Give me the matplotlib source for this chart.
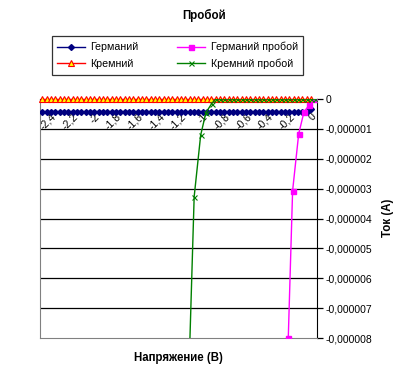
import matplotlib
matplotlib.use("Agg")
import matplotlib.pyplot as plt
from matplotlib.ticker import FuncFormatter, MultipleLocator

plt.rcParams['font.family'] = ['Liberation Sans', 'DejaVu Sans']

# --- data ---
volts = [-2.48, -2.44, -2.40, -2.36, -2.32, -2.28, -2.24, -2.20, -2.16, -2.12,
         -2.08, -2.04, -2.00, -1.96, -1.92, -1.88, -1.84, -1.80, -1.76, -1.72,
         -1.68, -1.64, -1.60, -1.56, -1.52, -1.48, -1.44, -1.40, -1.36, -1.32,
         -1.28, -1.24, -1.20, -1.16, -1.12, -1.08, -1.04, -1.00, -0.96, -0.92,
         -0.88, -0.84, -0.80, -0.76, -0.72, -0.68, -0.64, -0.60, -0.56, -0.52,
         -0.48, -0.44, -0.40, -0.36, -0.32, -0.28, -0.24, -0.20, -0.16, -0.12,
         -0.08, -0.04, 0.00]
ge_current = [-4.2e-7] * 62 + [-3.4e-7]
si_current = [0.0] * 63

ge_break_v = [-0.21, -0.17, -0.114, -0.065, -0.016, 0.04]
ge_break_i = [-8.0e-6, -3.07e-6, -1.17e-6, -4.3e-7, -2.0e-7, 0.0]

si_break_v = [-1.13, -1.078, -1.018, -0.97, -0.917,
              -0.88, -0.84, -0.80, -0.76, -0.72, -0.68, -0.64, -0.60, -0.56,
              -0.52, -0.48, -0.44, -0.40, -0.36, -0.32, -0.28, -0.24, -0.20,
              -0.16, -0.12, -0.08, -0.04, 0.00, 0.04]
si_break_i = [-9.6e-6, -3.27e-6, -1.21e-6, -4.6e-7, -1.57e-7,
              0.0, 0.0, 0.0, 0.0, 0.0, 0.0, 0.0, 0.0, 0.0,
              0.0, 0.0, 0.0, 0.0, 0.0, 0.0, 0.0, 0.0, 0.0,
              0.0, 0.0, 0.0, 0.0, 0.0, 0.0]

fig = plt.figure(figsize=(4.06, 3.82), dpi=100)
fig.patch.set_facecolor("white")
ax = fig.add_axes([40 / 406, 1 - 338 / 382, 277 / 406, 239 / 382])

fs = 7.5
fs_bold = 8.3

# gridlines under the data
for yv in [-1e-6, -2e-6, -3e-6, -4e-6, -5e-6, -6e-6, -7e-6]:
    ax.axhline(yv, color="black", lw=0.9, zorder=1)

ge, = ax.plot(volts, ge_current, color="#000080", marker="D", ms=3.0,
              lw=1, label="Германий", zorder=3)
si, = ax.plot(volts, si_current, color="#ff0000", marker="^", ms=4.0,
              mfc="#ffff00", mec="#ff0000", mew=0.8, lw=1, label="Кремний",
              zorder=3, clip_on=False)
geb, = ax.plot(ge_break_v, ge_break_i, color="#ff00ff", marker="s", ms=3.6,
               lw=1, label="Германий пробой", zorder=4)
sib, = ax.plot(si_break_v, si_break_i, color="#008000", marker="x", ms=3.6,
               mew=0.8, lw=1, label="Кремний пробой", zorder=4)

ax.set_xlim(-2.5, 0.055)
ax.set_ylim(-8e-6, 0)

# x axis sits at current = 0 (top of the plot), labels hang below it
ax.spines['bottom'].set_position(('data', 0))
ax.spines['bottom'].set_color("black")
ax.spines['top'].set_position(('axes', 0))
ax.spines['top'].set_color("#808080")
ax.spines['left'].set_color("#808080")
ax.spines['right'].set_color("black")

ax.xaxis.set_major_locator(MultipleLocator(0.2))
ax.xaxis.set_major_formatter(FuncFormatter(
    lambda v, p: "0" if abs(v) < 1e-9 else ("%g" % round(v, 1)).replace(".", ",")))
ax.tick_params(axis="x", length=0, pad=9, labelsize=fs)
for lbl in ax.get_xticklabels():
    lbl.set_rotation(45)
    lbl.set_ha("right")
    lbl.set_va("top")
    lbl.set_rotation_mode("anchor")

ax.yaxis.tick_right()
ax.yaxis.set_major_locator(MultipleLocator(1e-6))
ax.yaxis.set_major_formatter(FuncFormatter(
    lambda v, p: "0" if abs(v) < 1e-12 else ("%.6f" % v).replace(".", ",")))
ax.tick_params(axis="y", direction="out", length=4, width=0.9, pad=2,
               labelsize=fs, colors="black")

fig.text(388 / 406, 1 - 218 / 382, "Ток (А)", rotation=90, ha="center",
         va="center", fontsize=fs_bold, fontweight="bold")
fig.text(178 / 406, 1 - 358 / 382, "Напряжение (В)", ha="center",
         va="center", fontsize=fs_bold, fontweight="bold")
fig.text(204 / 406, 1 - 15 / 382, "Пробой", ha="center", va="center",
         fontsize=fs_bold, fontweight="bold")

leg = fig.legend(handles=[ge, si, geb, sib], ncol=2, fontsize=7.7,
                 loc="center", bbox_to_anchor=(52 / 406, 1 - 76 / 382,
                                               251 / 406, 41 / 382),
                 mode="expand", frameon=True, fancybox=False,
                 handlelength=2.6, handletextpad=0.5, borderpad=0.5,
                 labelspacing=0.6, columnspacing=1.5, borderaxespad=0)
leg.get_frame().set_edgecolor("black")
leg.get_frame().set_linewidth(0.9)

fig.savefig("out.png", dpi=100)
